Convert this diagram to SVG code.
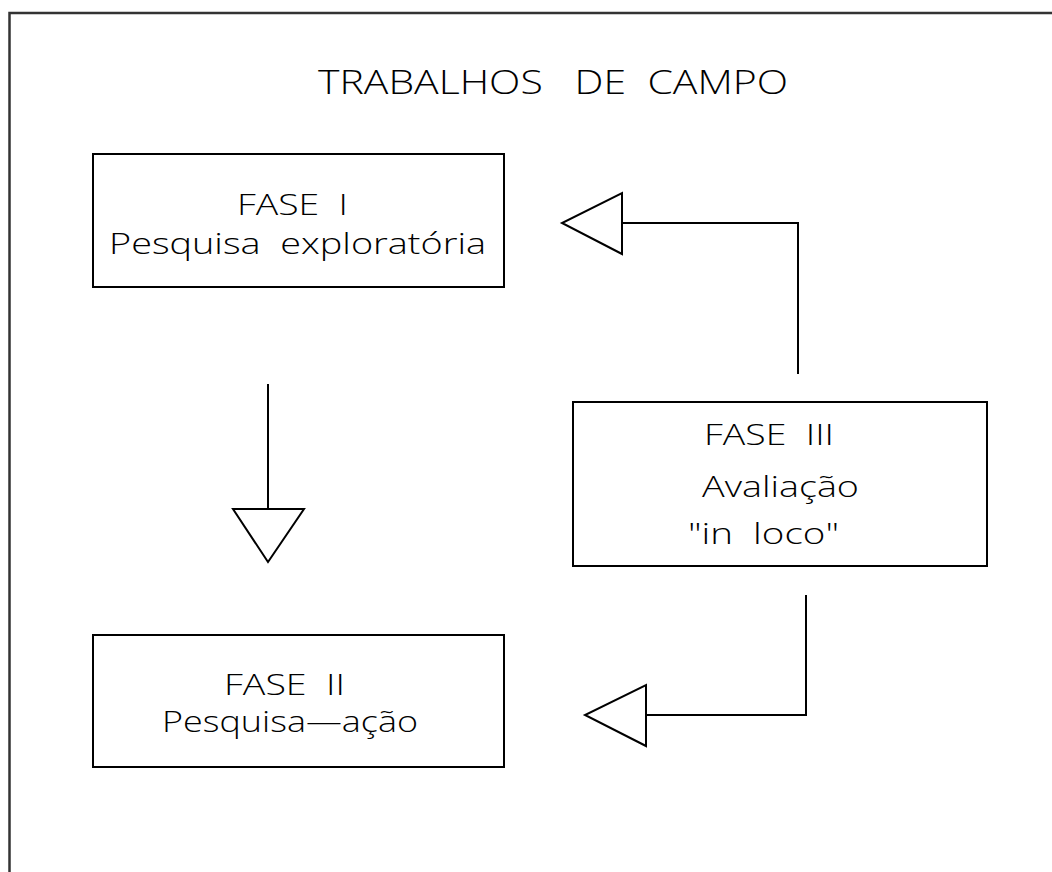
<svg xmlns="http://www.w3.org/2000/svg" width="1052" height="872" viewBox="0 0 1052 872">
<style>
.frame{fill:none;stroke:#333;stroke-width:2.5}
.box{fill:none;stroke:#000;stroke-width:2}
.ln{fill:none;stroke:#000;stroke-width:2}
.head{fill:#fff;stroke:#000;stroke-width:2;stroke-linejoin:miter}
.t{font-family:"Open Sans","Liberation Sans",sans-serif;font-weight:300;font-size:30px;fill:#000;white-space:pre}
</style>
<rect width="1052" height="872" fill="#fff"/>
<path class="frame" d="M9.5,872 V13 H1052"/>
<text class="t" xml:space="preserve" x="318" y="94" textLength="470" lengthAdjust="spacingAndGlyphs" style="font-size:33px">TRABALHOS   DE  CAMPO</text>
<g id="fase1">
<rect class="box" x="93" y="154" width="411" height="133"/>
<text class="t" xml:space="preserve" x="237" y="215" textLength="111" lengthAdjust="spacingAndGlyphs" style="font-size:29px">FASE  I</text>
<text class="t" xml:space="preserve" x="109" y="254" textLength="377" lengthAdjust="spacingAndGlyphs" style="font-size:29px">Pesquisa  exploratória</text>
</g>
<g id="fase2">
<rect class="box" x="93" y="635" width="411" height="132"/>
<text class="t" xml:space="preserve" x="224" y="695" textLength="121" lengthAdjust="spacingAndGlyphs">FASE  II</text>
<text class="t" xml:space="preserve" x="162" y="732" textLength="256" lengthAdjust="spacingAndGlyphs">Pesquisa—ação</text>
</g>
<g id="fase3">
<rect class="box" x="573" y="402" width="414" height="164"/>
<text class="t" xml:space="preserve" x="704" y="445" textLength="130" lengthAdjust="spacingAndGlyphs">FASE  III</text>
<text class="t" xml:space="preserve" x="702" y="497" textLength="157" lengthAdjust="spacingAndGlyphs">Avaliação</text>
<text class="t" xml:space="preserve" x="688" y="544" textLength="151" lengthAdjust="spacingAndGlyphs">"in  loco"</text>
</g>
<g id="connectors">
<path class="ln" d="M268,384 V509"/>
<polygon class="head" points="233,509 304,509 268,562"/>
<path class="ln" d="M798,374 V223 H622"/>
<polygon class="head" points="622,193 622,254 562,223"/>
<path class="ln" d="M806,595 V715 H646"/>
<polygon class="head" points="646,685 646,746 585,715"/>
</g>
</svg>
